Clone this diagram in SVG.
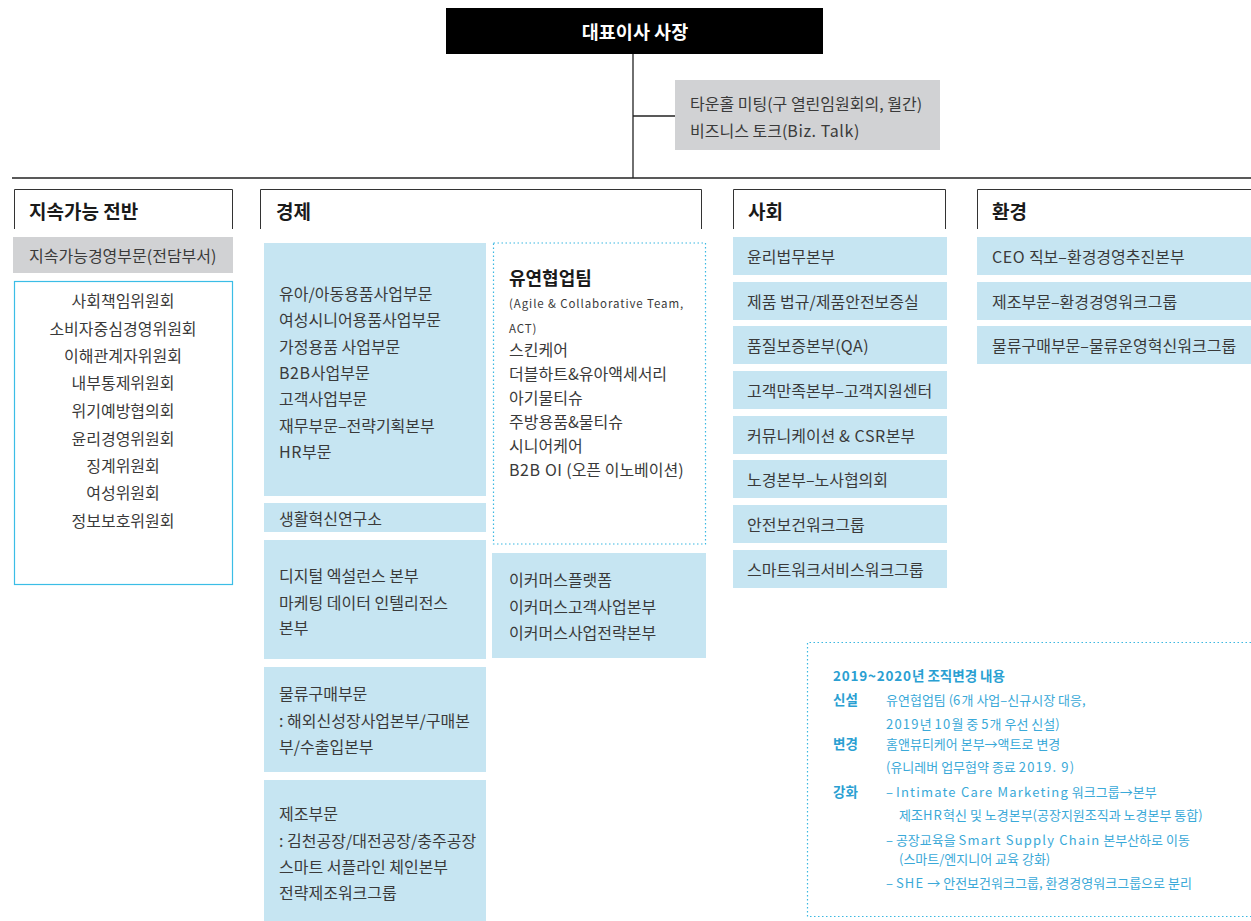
<svg xmlns="http://www.w3.org/2000/svg" width="1251" height="921" viewBox="0 0 1251 921">
<style>
text{font-family:"Noto Sans CJK KR","Noto Sans",sans-serif;dominant-baseline:central;fill:#3a3a3a}
.t{font-size:16px}
.h{font-size:19px;font-weight:bold;fill:#1a1a1a}
.lat{letter-spacing:0.6px}
.blue{fill:#c6e5f2}
.grey{fill:#d1d2d4}
.hdr{fill:none;stroke:#333;stroke-width:1}
.ln{stroke:#222;stroke-width:1.3;fill:none}
.note{font-size:13px;fill:#3aa9d8}
.noteb{font-size:13.5px;font-weight:bold;fill:#2a9fd2}
.nl{letter-spacing:1.2px}
.dot{fill:none;stroke:#3bb8e2;stroke-width:1.2;stroke-dasharray:1.5 2.5}
</style>
<g id="connectors">
<line class="ln" x1="633" y1="54" x2="633" y2="178"/>
<line class="ln" x1="633" y1="116" x2="675" y2="116"/>
<line class="ln" x1="12" y1="178" x2="1251" y2="178"/>
</g>
<g id="ceo">
<rect x="446" y="8" width="377" height="46" fill="#000"/>
<text x="635" y="31" text-anchor="middle" style="font-size:18.5px;font-weight:bold;fill:#fff">대표이사 사장</text>
</g>
<g id="townhall">
<rect class="grey" x="675" y="80" width="265" height="70"/>
<text class="t" x="690" y="103">타운홀 미팅(구 열린임원회의, 월간)</text>
<text class="t" x="690" y="130">비즈니스 토크(<tspan class="lat">Biz. Talk</tspan>)</text>
</g>
<g id="sustain">
<path class="hdr" d="M14.5 229V189.5H232.5V229"/>
<text class="h" x="29" y="210">지속가능 전반</text>
<rect class="grey" x="13" y="237" width="220" height="36"/>
<text class="t" x="29" y="255">지속가능경영부문(전담부서)</text>
<rect x="14.5" y="281.5" width="218" height="303" fill="none" stroke="#3bbde6" stroke-width="1.2"/>
<text class="t" x="123" y="300" text-anchor="middle">사회책임위원회</text>
<text class="t" x="123" y="328" text-anchor="middle">소비자중심경영위원회</text>
<text class="t" x="123" y="355" text-anchor="middle">이해관계자위원회</text>
<text class="t" x="123" y="382" text-anchor="middle">내부통제위원회</text>
<text class="t" x="123" y="410" text-anchor="middle">위기예방협의회</text>
<text class="t" x="123" y="438" text-anchor="middle">윤리경영위원회</text>
<text class="t" x="123" y="465" text-anchor="middle">징계위원회</text>
<text class="t" x="123" y="492" text-anchor="middle">여성위원회</text>
<text class="t" x="123" y="520" text-anchor="middle">정보보호위원회</text>
</g>
<g id="economy">
<path class="hdr" d="M260.5 229V189.5H701.5V229"/>
<text class="h" x="276" y="210">경제</text>
</g>
<g id="biz">
<rect class="blue" x="264" y="243" width="222" height="253"/>
<text class="t" x="279" y="293">유아/아동용품사업부문</text>
<text class="t" x="279" y="319">여성시니어용품사업부문</text>
<text class="t" x="279" y="346">가정용품 사업부문</text>
<text class="t" x="279" y="372"><tspan class="lat">B2B</tspan>사업부문</text>
<text class="t" x="279" y="398">고객사업부문</text>
<text class="t" x="279" y="425">재무부문–전략기획본부</text>
<text class="t" x="279" y="451"><tspan class="lat">HR</tspan>부문</text>
</g>
<g id="lab">
<rect class="blue" x="264" y="503" width="222" height="29"/>
<text class="t" x="279" y="518">생활혁신연구소</text>
</g>
<g id="digital">
<rect class="blue" x="264" y="540" width="222" height="119"/>
<text class="t" x="279" y="575">디지털 엑설런스 본부</text>
<text class="t" x="279" y="602">마케팅 데이터 인텔리전스</text>
<text class="t" x="279" y="627">본부</text>
</g>
<g id="logistics">
<rect class="blue" x="264" y="667" width="222" height="105"/>
<text class="t" x="279" y="693">물류구매부문</text>
<text class="t" x="279" y="720">: 해외신성장사업본부/구매본</text>
<text class="t" x="279" y="746">부/수출입본부</text>
</g>
<g id="manufacturing">
<rect class="blue" x="264" y="780" width="222" height="141"/>
<text class="t" x="279" y="813">제조부문</text>
<text class="t" x="279" y="840">: 김천공장/대전공장/충주공장</text>
<text class="t" x="279" y="866">스마트 서플라인 체인본부</text>
<text class="t" x="279" y="892">전략제조워크그룹</text>
</g>
<g id="act">
<rect class="dot" x="493.5" y="243" width="212" height="301"/>
<text x="509" y="277" style="font-size:18px;font-weight:bold;fill:#1a1a1a">유연협업팀</text>
<text x="509" y="303" style="font-size:11.5px;letter-spacing:0.9px">(Agile &amp; Collaborative Team,</text>
<text x="509" y="328" style="font-size:11.5px;letter-spacing:0.9px">ACT)</text>
<text class="t" x="509" y="349">스킨케어</text>
<text class="t" x="509" y="373">더블하트&amp;유아액세서리</text>
<text class="t" x="509" y="397">아기물티슈</text>
<text class="t" x="509" y="421">주방용품&amp;물티슈</text>
<text class="t" x="509" y="445">시니어케어</text>
<text class="t" x="509" y="469"><tspan class="lat">B2B OI</tspan> (오픈 이노베이션)</text>
</g>
<g id="ecommerce">
<rect class="blue" x="492" y="553" width="214" height="105"/>
<text class="t" x="509" y="579">이커머스플랫폼</text>
<text class="t" x="509" y="606">이커머스고객사업본부</text>
<text class="t" x="509" y="632">이커머스사업전략본부</text>
</g>
<g id="social">
<path class="hdr" d="M733.5 229V189.5H945.5V229"/>
<text class="h" x="748" y="210">사회</text>
<rect class="blue" x="733" y="237" width="214" height="38"/>
<text class="t" x="747" y="256">윤리법무본부</text>
<rect class="blue" x="733" y="282" width="214" height="38"/>
<text class="t" x="747" y="301">제품 법규/제품안전보증실</text>
<rect class="blue" x="733" y="326" width="214" height="38"/>
<text class="t" x="747" y="345">품질보증본부(<tspan class="lat">QA</tspan>)</text>
<rect class="blue" x="733" y="371" width="214" height="38"/>
<text class="t" x="747" y="390">고객만족본부–고객지원센터</text>
<rect class="blue" x="733" y="416" width="214" height="38"/>
<text class="t" x="747" y="435">커뮤니케이션 <tspan class="lat">&amp; CSR</tspan>본부</text>
<rect class="blue" x="733" y="460" width="214" height="38"/>
<text class="t" x="747" y="479">노경본부–노사협의회</text>
<rect class="blue" x="733" y="505" width="214" height="38"/>
<text class="t" x="747" y="524">안전보건워크그룹</text>
<rect class="blue" x="733" y="550" width="214" height="38"/>
<text class="t" x="747" y="569">스마트워크서비스워크그룹</text>
</g>
<g id="environment">
<path class="hdr" d="M977.5 229V189.5H1251"/>
<text class="h" x="992" y="210">환경</text>
<rect class="blue" x="977" y="237" width="274" height="38"/>
<text class="t" x="992" y="256"><tspan class="lat">CEO</tspan> 직보–환경경영추진본부</text>
<rect class="blue" x="977" y="282" width="274" height="38"/>
<text class="t" x="992" y="301">제조부문–환경경영워크그룹</text>
<rect class="blue" x="977" y="326" width="274" height="38"/>
<text class="t" x="992" y="345">물류구매부문–물류운영혁신워크그룹</text>
</g>
<g id="changes">
<path class="dot" d="M1251 642.5H807.5V916.5H1251"/>
<text class="noteb" x="833" y="675"><tspan style="letter-spacing:0.8px">2019~2020</tspan>년 조직변경 내용</text>
<text class="noteb" x="833" y="699">신설</text>
<text class="note" x="886" y="699">유연협업팀 (<tspan class="nl">6</tspan>개 사업–신규시장 대응,</text>
<text class="note" x="886" y="723"><tspan class="nl">2019</tspan>년 <tspan class="nl">10</tspan>월 중 <tspan class="nl">5</tspan>개 우선 신설)</text>
<text class="noteb" x="833" y="743">변경</text>
<text class="note" x="886" y="743">홈앤뷰티케어 본부→액트로 변경</text>
<text class="note" x="886" y="766">(유니레버 업무협약 종료 <tspan class="nl">2019. 9</tspan>)</text>
<text class="noteb" x="833" y="791">강화</text>
<text class="note" x="886" y="791">– <tspan class="nl">Intimate Care Marketing</tspan> 워크그룹→본부</text>
<text class="note" x="899" y="814">제조<tspan class="nl">HR</tspan>혁신 및 노경본부(공장지원조직과 노경본부 통합)</text>
<text class="note" x="886" y="839">– 공장교육을 <tspan class="nl">Smart Supply Chain</tspan> 본부산하로 이동</text>
<text class="note" x="899" y="858">(스마트/엔지니어 교육 강화)</text>
<text class="note" x="886" y="882">– <tspan class="nl">SHE</tspan> → 안전보건워크그룹, 환경경영워크그룹으로 분리</text>
</g>
</svg>
